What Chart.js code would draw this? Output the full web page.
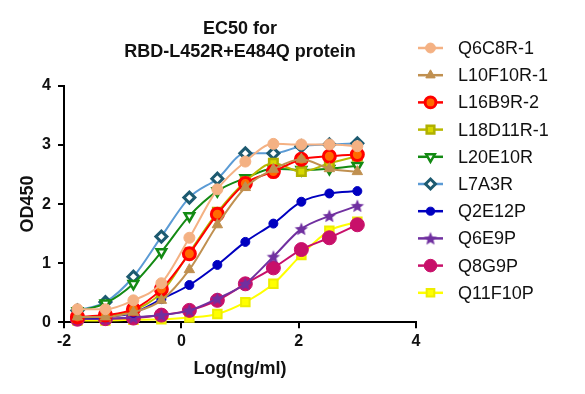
<!DOCTYPE html>
<html>
<head>
<meta charset="utf-8">
<script src="https://cdn.jsdelivr.net/npm/chart.js@4.4.1/dist/chart.umd.min.js"></script>
<style>
  html, body { margin: 0; padding: 0; background: #fff; }
  #wrap { width: 585px; height: 394px; position: relative; }
</style>
</head>
<body>
<div id="wrap"><canvas id="myChart"></canvas></div>
<script>
// log10 of concentration (ng/ml), 3-fold dilutions
const logConc = [-1.771, -1.294, -0.817, -0.340, 0.137, 0.614, 1.091, 1.569, 2.046, 2.523, 3.000];

const q6c8r1  = [0.22, 0.22, 0.37, 0.66, 1.43, 2.25, 2.72, 3.02, 3.01, 3.01, 2.98];
const l10f10r1 = [0.09, 0.09, 0.17, 0.37, 0.89, 1.65, 2.28, 2.59, 2.76, 2.60, 2.55];
const l16b9r2 = [0.09, 0.12, 0.22, 0.56, 1.16, 1.83, 2.35, 2.55, 2.76, 2.81, 2.84];
const l18d11r1 = [0.08, 0.10, 0.20, 0.50, 1.18, 1.86, 2.38, 2.69, 2.55, 2.69, 2.81];
const l20e10r = [0.19, 0.32, 0.65, 1.19, 1.80, 2.22, 2.44, 2.60, 2.58, 2.60, 2.65];
const l7a3r   = [0.20, 0.34, 0.77, 1.45, 2.11, 2.43, 2.86, 2.86, 2.98, 3.01, 3.03];
const q2e12p  = [0.07, 0.09, 0.16, 0.39, 0.63, 0.97, 1.36, 1.67, 2.04, 2.18, 2.22];
const q6e9p   = [0.05, 0.06, 0.08, 0.12, 0.20, 0.40, 0.65, 1.11, 1.58, 1.80, 1.97];
const q8g9p   = [0.05, 0.06, 0.07, 0.12, 0.20, 0.37, 0.65, 0.92, 1.23, 1.43, 1.65];
const q11f10p = [0.03, 0.03, 0.04, 0.05, 0.08, 0.14, 0.34, 0.65, 1.14, 1.55, 1.70];

const xTicks = [-2, 0, 2, 4];
const yTicks = [0, 1, 2, 3, 4];

const FONT = "'Liberation Sans', Arial, sans-serif";

function pts(vals) {
  return vals.map((v, i) => ({ x: logConc[i], y: v }));
}

// filled five-point star (Chart.js 'star' is only an asterisk)
function starImage(r, color) {
  const c = document.createElement('canvas');
  const s = Math.ceil(r * 2 + 2);
  c.width = s; c.height = s;
  const g = c.getContext('2d');
  g.fillStyle = color;
  g.beginPath();
  for (let k = 0; k < 10; k++) {
    const rr = k % 2 === 0 ? r : r * 0.45;
    const a = -Math.PI / 2 + k * Math.PI / 5;
    const px = s / 2 + rr * Math.cos(a), py = s / 2 + 0.6 + rr * Math.sin(a);
    if (k === 0) g.moveTo(px, py); else g.lineTo(px, py);
  }
  g.closePath();
  g.fill();
  return c;
}

function series(label, vals, line, fill, edge, style, radius, bw, rot) {
  return {
    label: label,
    data: pts(vals),
    showLine: true,
    borderColor: line,
    borderWidth: 2,
    backgroundColor: fill,
    pointBackgroundColor: fill,
    pointBorderColor: edge,
    pointBorderWidth: bw,
    pointStyle: style,
    pointRadius: radius,
    pointRotation: rot || 0,
    cubicInterpolationMode: 'monotone',
    clip: false
  };
}

const datasets = [
  series('Q6C8R-1',   q6c8r1,   '#F4B183', '#F4B183', '#F4B183', 'circle',   5.5, 1),
  series('L10F10R-1', l10f10r1, '#C09050', '#C09050', '#C09050', 'triangle', 6,   1),
  series('L16B9R-2',  l16b9r2,  '#FF0000', '#FF6A00', '#FF0000', 'circle',   6,   3),
  series('L18D11R-1', l18d11r1, '#B8B800', '#D8D800', '#B0B000', 'rect',     6,   2.5),
  series('L20E10R',   l20e10r,  '#138A13', '#FFFFFF', '#138A13', 'triangle', 5.5, 2.5, 180),
  series('L7A3R',     l7a3r,    '#5B9BD5', '#FFFFFF', '#1D5A70', 'rectRot',  5.5, 3),
  series('Q2E12P',    q2e12p,   '#0000C0', '#0000C0', '#0000C0', 'circle',   4.5, 1),
  series('Q6E9P',     q6e9p,    '#7030A0', '#7030A0', '#7030A0', starImage(7, '#7030A0'), 6, 1),
  series('Q8G9P',     q8g9p,    '#C8106A', '#C8106A', '#C8106A', 'circle',   7,   1),
  series('Q11F10P',   q11f10p,  '#FFFF00', '#FFFF00', '#EDED00', 'rect',     6,   2)
];

// legend drawn by hand: short line + marker + name
const sideLegend = {
  id: 'sideLegend',
  afterDraw(chart) {
    const ctx = chart.ctx;
    const x0 = 418, x1 = 443, tx = 458, top = 48, step = 27.2;
    ctx.save();
    chart.data.datasets.forEach((ds, i) => {
      const y = top + i * step;
      ctx.strokeStyle = ds.borderColor;
      ctx.lineWidth = 2.5;
      ctx.beginPath();
      ctx.moveTo(x0, y);
      ctx.lineTo(x1, y);
      ctx.stroke();
      ctx.fillStyle = ds.pointBackgroundColor;
      ctx.strokeStyle = ds.pointBorderColor;
      ctx.lineWidth = ds.pointBorderWidth;
      const opts = {
        pointStyle: ds.pointStyle,
        radius: ds.pointRadius * 0.9,
        rotation: ds.pointRotation,
        borderWidth: ds.pointBorderWidth
      };
      if (Chart.helpers && Chart.helpers.drawPoint) {
        Chart.helpers.drawPoint(ctx, opts, (x0 + x1) / 2, y);
      } else {
        ctx.beginPath();
        ctx.arc((x0 + x1) / 2, y, opts.radius, 0, Math.PI * 2);
        ctx.fill();
        ctx.stroke();
      }
      ctx.fillStyle = '#111';
      ctx.font = '18px ' + FONT;
      ctx.textAlign = 'left';
      ctx.textBaseline = 'middle';
      ctx.fillText(ds.label, tx, y + 1);
    });
    ctx.restore();
  }
};

window.addEventListener("DOMContentLoaded", () => {
  const ctx = document.getElementById('myChart');

  new Chart(ctx, {
    type: 'scatter',
    data: { datasets: datasets },
    options: {
      responsive: true,
      maintainAspectRatio: false,
      animation: false,
      layout: { padding: { top: 18, right: 169, left: 8, bottom: 14 } },
      plugins: {
        legend: { display: false },
        tooltip: { enabled: false },
        title: {
          display: true,
          fullSize: false,
          text: ['EC50 for', 'RBD-L452R+E484Q protein'],
          color: '#111',
          font: { family: FONT, size: 18, weight: 'bold', lineHeight: 1.25 },
          padding: { top: 0, bottom: 23 }
        }
      },
      scales: {
        x: {
          type: 'linear',
          min: -2,
          max: 4,
          afterBuildTicks: s => { s.ticks = xTicks.map(v => ({ value: v })); },
          border: { display: true, color: '#000', width: 2 },
          grid: { display: true, drawOnChartArea: false, drawTicks: true, color: '#000', lineWidth: 2, tickLength: 6 },
          ticks: { color: '#111', padding: 4, font: { family: FONT, size: 16, weight: 'bold' }, maxRotation: 0 },
          title: {
            display: true,
            text: 'Log(ng/ml)',
            color: '#111',
            font: { family: FONT, size: 18, weight: 'bold' },
            padding: { top: 3, bottom: 0 }
          }
        },
        y: {
          type: 'linear',
          min: 0,
          max: 4,
          afterBuildTicks: s => { s.ticks = yTicks.map(v => ({ value: v })); },
          afterFit: s => { s.width = 56; },
          border: { display: true, color: '#000', width: 2 },
          grid: { display: true, drawOnChartArea: false, drawTicks: true, color: '#000', lineWidth: 2, tickLength: 6 },
          ticks: { color: '#111', padding: 7, font: { family: FONT, size: 16, weight: 'bold' } },
          title: {
            display: true,
            text: 'OD450',
            color: '#111',
            font: { family: FONT, size: 18, weight: 'bold' },
            padding: { top: 9, bottom: 0 }
          }
        }
      }
    },
    plugins: [sideLegend]
  });
});
</script>
</body>
</html>
